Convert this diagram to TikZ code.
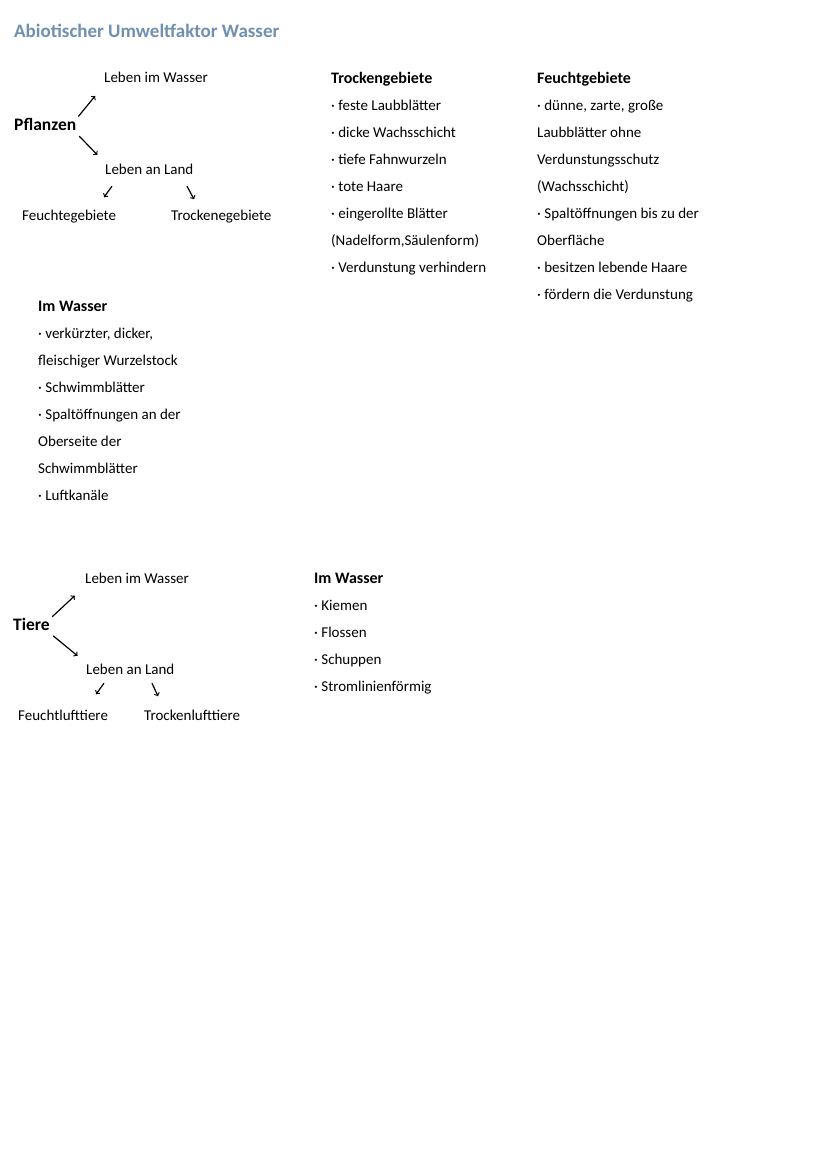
\documentclass[tikz,border=0pt]{standalone}
\usepackage{fontspec}
\setmainfont{Carlito}
\usepackage{xcolor}
\usetikzlibrary{arrows, positioning, calc}
\definecolor{titleblue}{HTML}{7090B0}

\begin{document}
\begin{tikzpicture}[x=1pt, y=-1pt,
  every node/.style={anchor=west, inner sep=0pt, text height=11pt, text depth=3pt, font=\fontsize{15}{18}\selectfont},
  head/.style={font=\fontsize{16}{19}\selectfont\bfseries},
  root/.style={font=\fontsize{17.5}{20}\selectfont\bfseries},
  arr/.style={->, line width=1.2pt}]
\useasboundingbox[fill=white] (0,0) rectangle (828,1171);

\node (title) [font=\fontsize{19}{22}\selectfont\bfseries, text=titleblue] at (14,33) {Abiotischer Umweltfaktor Wasser};

% Pflanzen
\node (pfl) [root] at (14,126) {Pflanzen};
\node (plw) at (104,78) {Leben im Wasser};
\node (pll) at (105,170) {Leben an Land};
\node (pfg) at (22,216) {Feuchtegebiete};
\node (ptg) at (171,216) {Trockenegebiete};

\draw [arr, shorten <=3pt, shorten >=14pt] (pfl.north east) -- (plw.south west);
\draw [arr, shorten <=4pt, shorten >=11pt] (pfl.south east) -- (pll.north west);
\draw [arr] ([shift={(7,9)}]pll.south west) -- ++(-8,11);
\draw [arr] ([shift={(82,9)}]pll.south west) -- ++(7,13);

% Trockengebiete
\node (tr0) [head] at (331,79) {Trockengebiete};
\foreach \t [count=\i] in {{· feste Laubblätter}, {· dicke Wachsschicht}, {· tiefe Fahnwurzeln}, {· tote Haare}, {· eingerollte Blätter}, {(Nadelform,Säulenform)}, {· Verdunstung verhindern}}
  \node (tr\i) at (331,79+27*\i) {\t};

% Feuchtgebiete
\node (fe0) [head] at (537,79) {Feuchtgebiete};
\foreach \t [count=\i] in {{· dünne, zarte, große}, {Laubblätter ohne}, {Verdunstungsschutz}, {(Wachsschicht)}, {· Spaltöffnungen bis zu der}, {Oberfläche}, {· besitzen lebende Haare}, {· fördern die Verdunstung}}
  \node (fe\i) at (537,79+27*\i) {\t};

% Im Wasser (Pflanzen)
\node (pw0) [head] at (38,307) {Im Wasser};
\foreach \t [count=\i] in {{· verkürzter, dicker,}, {fleischiger Wurzelstock}, {· Schwimmblätter}, {· Spaltöffnungen an der}, {Oberseite der}, {Schwimmblätter}, {· Luftkanäle}}
  \node (pw\i) at (38,307+27*\i) {\t};

% Tiere
\node (tie) [root] at (13,626) {Tiere};
\node (tlw) at (85,579) {Leben im Wasser};
\node (tll) at (86,670) {Leben an Land};
\node (tff) at (18,716) {Feuchtlufttiere};
\node (ttf) at (144,716) {Trockenlufttiere};

\draw [arr, shorten <=3pt, shorten >=14pt] (tie.north east) -- (tlw.south west);
\draw [arr, shorten <=4pt, shorten >=11pt] (tie.south east) -- (tll.north west);
\draw [arr] ([shift={(18,6)}]tll.south west) -- ++(-8,11);
\draw [arr] ([shift={(66,6)}]tll.south west) -- ++(6,13);

% Im Wasser (Tiere)
\node (tw0) [head] at (314,579) {Im Wasser};
\foreach \t [count=\i] in {{· Kiemen}, {· Flossen}, {· Schuppen}, {· Stromlinienförmig}}
  \node (tw\i) at (314,579+27*\i) {\t};
\end{tikzpicture}
\end{document}
